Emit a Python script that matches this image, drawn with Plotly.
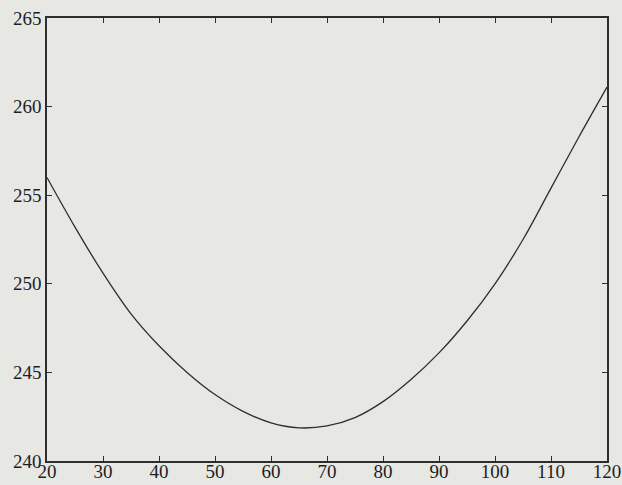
import plotly.graph_objects as go

x_vals = [20, 25, 30, 35, 40, 45, 50, 55, 60, 65, 70, 75, 80, 85, 90, 95, 100, 105, 110, 115, 120]
y_vals = [256.0, 253.2, 250.6, 248.3, 246.5, 245.0, 243.75, 242.8, 242.15, 241.87, 241.98, 242.45,
          243.35, 244.6, 246.1, 247.9, 250.0, 252.5, 255.4, 258.3, 261.1]
x_ticks = [20, 30, 40, 50, 60, 70, 80, 90, 100, 110, 120]
y_ticks = [240, 245, 250, 255, 260, 265]

bg = "#e7e7e4"
ink = "#2e2e2e"

fig = go.Figure()
fig.add_trace(go.Scatter(x=x_vals, y=y_vals, mode="lines",
                         line=dict(color=ink, width=1.3, shape="spline"),
                         showlegend=False, hoverinfo="skip"))

axis_common = dict(showgrid=False, zeroline=False, showline=True, linecolor=ink, linewidth=1.5,
                   mirror="ticks", ticks="inside", ticklen=5, tickwidth=1, tickcolor=ink,
                   automargin=False,
                   tickfont=dict(family="Liberation Serif, Times New Roman, serif", size=19, color="#1e1e1e"))

fig.update_xaxes(range=[20, 120], tickvals=x_ticks, ticktext=[str(v) for v in x_ticks],
                 ticklabelstandoff=-8, **axis_common)
fig.update_yaxes(range=[240, 265], tickvals=y_ticks, ticktext=[str(v) for v in y_ticks], **axis_common)

fig.update_layout(width=622, height=485, paper_bgcolor=bg, plot_bgcolor=bg,
                  margin=dict(l=47, r=15, t=18, b=24))
fig.write_html("out.html", config={"displayModeBar": False},
               post_script="document.body.style.margin='0';document.body.style.background='#e7e7e4';")
